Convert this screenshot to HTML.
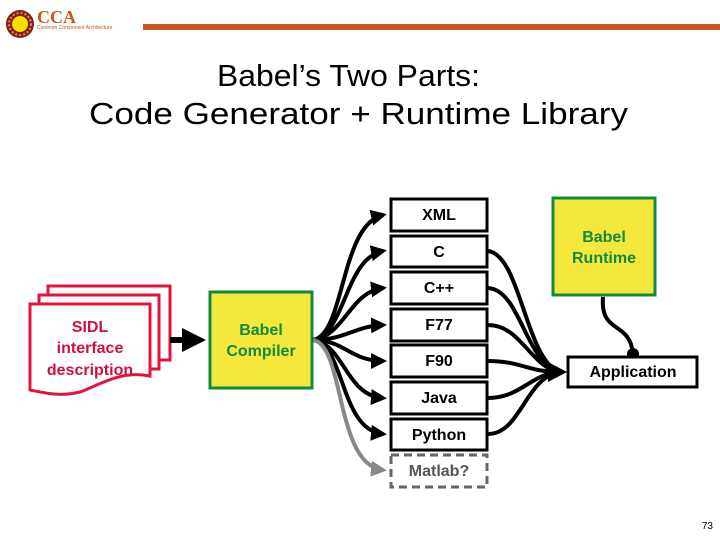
<!DOCTYPE html>
<html><head><meta charset="utf-8"><style>
html,body{margin:0;padding:0;background:#fff;}
svg{display:block;font-family:"Liberation Sans",Arial,sans-serif;}
</style></head><body>
<svg width="720" height="540" viewBox="0 0 720 540" xmlns="http://www.w3.org/2000/svg">
<defs>
<marker id="ah" markerWidth="4" markerHeight="4" refX="3" refY="2" orient="auto" markerUnits="strokeWidth"><path d="M0,0 L4,2 L0,4 z" fill="#000"/></marker>
<marker id="ahg" markerWidth="4" markerHeight="4" refX="3" refY="2" orient="auto" markerUnits="strokeWidth"><path d="M0,0 L4,2 L0,4 z" fill="#888"/></marker>
</defs>
<!-- header -->
<circle cx="20" cy="24" r="14" fill="#8b1a1a"/>
<circle cx="20" cy="24" r="11" fill="none" stroke="#c8a030" stroke-width="2" stroke-dasharray="2 2"/>
<circle cx="20" cy="24" r="8" fill="#f5e000"/>
<text x="37" y="23" font-family="Liberation Serif,serif" font-size="18" font-weight="bold" fill="#c8561e">CCA</text>
<text x="37" y="29" font-size="5" fill="#c8561e">Common Component Architecture</text>
<rect x="143" y="24" width="577" height="6" fill="#c8561e"/>
<!-- title -->
<text x="217" y="86" font-size="31" textLength="263" lengthAdjust="spacingAndGlyphs">Babel’s Two Parts:</text>
<text x="89" y="124" font-size="31" textLength="539" lengthAdjust="spacingAndGlyphs">Code Generator  +  Runtime Library</text>
<!-- SIDL stacked docs -->
<rect x="48" y="286" width="122" height="74" fill="#fff" stroke="#e0143c" stroke-width="3"/>
<rect x="39" y="295" width="120" height="74" fill="#fff" stroke="#e0143c" stroke-width="3"/>
<path d="M30,304 L150,304 L150,376 C120,370 100,385 80,392 C60,397 45,393 30,390 Z" fill="#fff" stroke="#e0143c" stroke-width="3"/>
<text font-size="16" font-weight="bold" fill="#d01040" text-anchor="middle"><tspan x="90" y="332">SIDL</tspan><tspan x="90" y="353">interface</tspan><tspan x="90" y="375">description</tspan></text>
<line x1="170" y1="340" x2="200" y2="340" stroke="#000" stroke-width="6" marker-end="url(#ah)"/>
<!-- compiler -->
<rect x="210" y="292" width="102" height="96" fill="#f5e83c" stroke="#128a3c" stroke-width="3"/>
<text font-size="16" font-weight="bold" fill="#128a3c" text-anchor="middle"><tspan x="261" y="335">Babel</tspan><tspan x="261" y="356">Compiler</tspan></text>
<!-- fan arrows -->
<g fill="none" stroke="#000" stroke-width="4">
<path d="M313,340 C345,335 340,225 383,215" marker-end="url(#ah)"/>
<path d="M313,340 C345,335 345,258 383,251" marker-end="url(#ah)"/>
<path d="M313,340 C345,335 350,292 383,288" marker-end="url(#ah)"/>
<path d="M313,340 C345,340 355,326 383,325" marker-end="url(#ah)"/>
<path d="M313,340 C345,340 350,361 383,361" marker-end="url(#ah)"/>
<path d="M313,340 C345,345 345,395 383,398" marker-end="url(#ah)"/>
<path d="M313,340 C345,345 340,430 383,434" marker-end="url(#ah)"/>
</g>
<path d="M313,340 C345,345 335,465 383,470" fill="none" stroke="#888" stroke-width="4" marker-end="url(#ahg)"/>
<!-- language boxes -->
<g fill="#fff" stroke="#000" stroke-width="3">
<rect x="391" y="199" width="96" height="32"/>
<rect x="391" y="236" width="96" height="31"/>
<rect x="391" y="272" width="96" height="32"/>
<rect x="391" y="309" width="96" height="32"/>
<rect x="391" y="345" width="96" height="32"/>
<rect x="391" y="382" width="96" height="32"/>
<rect x="391" y="419" width="96" height="31"/>
</g>
<rect x="391" y="455" width="96" height="32" fill="#fff" stroke="#666" stroke-width="3" stroke-dasharray="8 5"/>
<g font-size="16" font-weight="bold" text-anchor="middle">
<text x="439" y="220">XML</text>
<text x="439" y="257">C</text>
<text x="439" y="293">C++</text>
<text x="439" y="330">F77</text>
<text x="439" y="366">F90</text>
<text x="439" y="403">Java</text>
<text x="439" y="440">Python</text>
<text x="439" y="476" fill="#555">Matlab?</text>
</g>
<!-- converging -->
<g fill="none" stroke="#000" stroke-width="4">
<path d="M488,251 C520,255 525,355 558,372"/>
<path d="M488,288 C520,290 525,360 558,372"/>
<path d="M488,325 C520,325 530,365 558,372"/>
<path d="M488,361 C520,361 530,372 558,372"/>
<path d="M488,398 C520,398 530,375 558,372"/>
<path d="M488,434 C520,434 525,380 558,372"/>
</g>
<path d="M548,362 L567,372 L548,382 Z" fill="#000"/>
<!-- runtime -->
<rect x="553" y="198" width="102" height="97" fill="#f5e83c" stroke="#128a3c" stroke-width="3"/>
<text font-size="16" font-weight="bold" fill="#128a3c" text-anchor="middle"><tspan x="604" y="242">Babel</tspan><tspan x="604" y="263">Runtime</tspan></text>
<path d="M603,297 C600,335 630,320 633,354" fill="none" stroke="#000" stroke-width="4"/>
<circle cx="633" cy="354" r="6" fill="#000"/>
<rect x="568" y="357" width="129" height="30" fill="#fff" stroke="#000" stroke-width="3"/>
<text x="633" y="377" font-size="16" font-weight="bold" text-anchor="middle">Application</text>
<text x="713" y="529" font-size="10" text-anchor="end">73</text>
</svg>
</body></html>
